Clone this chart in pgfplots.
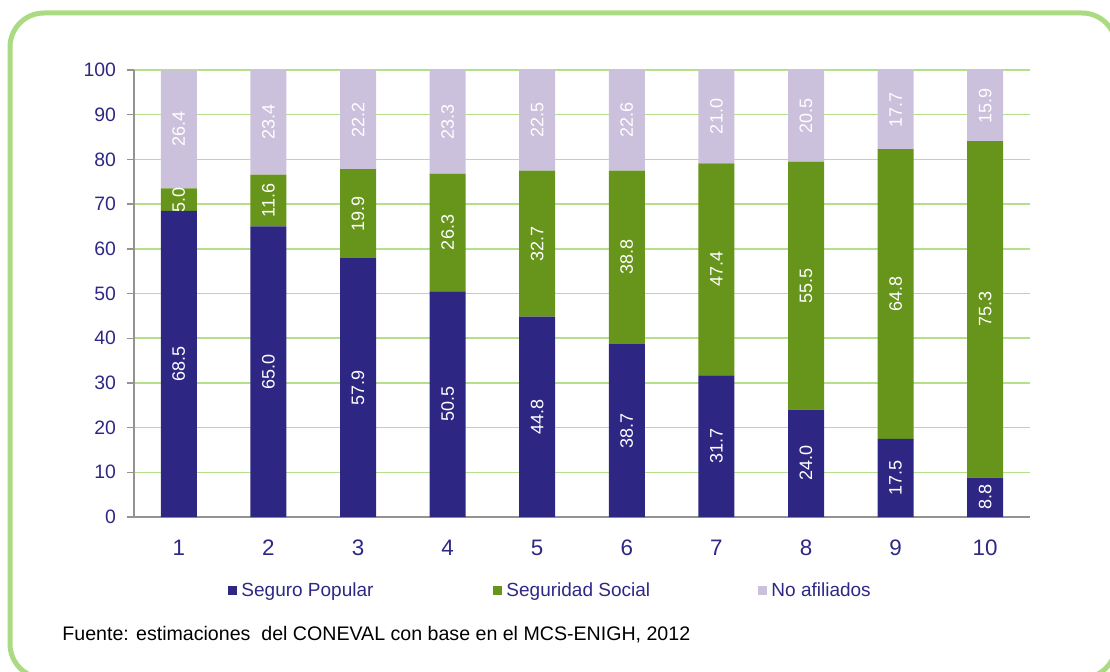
\documentclass[border=0pt]{standalone}
\usepackage{fontspec}
\setmainfont{Liberation Sans}
\usepackage{pgfplots}
\usepackage{pgfplotstable}
\pgfplotsset{compat=1.18}

\definecolor{spblue}{RGB}{46,38,131}
\definecolor{ssgreen}{RGB}{103,148,26}
\definecolor{nalav}{RGB}{203,193,220}
\definecolor{gridgreen}{RGB}{181,224,138}
\definecolor{framegreen}{RGB}{170,219,130}
\definecolor{tickblue}{RGB}{46,40,133}

\pgfplotsset{
  sqleg/.style={legend image code/.code={\fill[##1] (0pt,-2.2pt) rectangle (4.5pt,2.3pt);}},
  samebox/.style={at={(67pt,77pt)}, anchor=south west,
    scale only axis, width=448pt, height=223.5pt,
    xmin=0.5, xmax=10.5, ymin=0, ymax=100},
}

% deciles: Seguro Popular, Seguridad Social, No afiliados
\pgfplotstableread{
dec sp ss na
1 68.5 5.0 26.4
2 65.0 11.6 23.4
3 57.9 19.9 22.2
4 50.5 26.3 23.3
5 44.8 32.7 22.5
6 38.7 38.8 22.6
7 31.7 47.4 21.0
8 24.0 55.5 20.5
9 17.5 64.8 17.7
10 8.8 75.3 15.9
}\datos

\begin{document}
\begin{tikzpicture}
\useasboundingbox (0,0) rectangle (555pt,335.5pt);
\clip (0,0) rectangle (555pt,335.5pt);
\draw[framegreen, line width=2.5pt, rounded corners=17pt] (5pt,-3.5pt) rectangle (558pt,329pt);
\begin{axis}[
  samebox,
  ybar stacked, bar width=18pt,
  xtick={1,...,10}, ytick={0,10,...,100},
  axis x line*=bottom, axis y line*=left,
  axis line style={draw=gray!85, line width=0.7pt},
  tick align=outside, major tick length=3.5pt,
  ytick style={draw=gray!85, line width=0.7pt},
  xtick style={draw=none},
  ymajorgrids, grid style={gridgreen, line width=0.8pt},
  /pgf/number format/assume math mode=true,
  yticklabel style={font=\fontsize{9.7}{12}\selectfont, text=tickblue, xshift=-2pt},
  xticklabel style={font=\fontsize{11.2}{13}\selectfont, text=tickblue, yshift=-4.5pt},
  legend columns=3,
  legend style={at={(0.105,0)}, anchor=west, yshift=-37pt, draw=none, fill=none, inner sep=0pt,
    font=\fontsize{9.5}{11}\selectfont, text=tickblue,
    /tikz/every even column/.append style={column sep=0pt}},
]
\addplot[fill=spblue, draw=none, sqleg] table[x=dec, y=sp] {\datos};
\addplot[fill=ssgreen, draw=none, sqleg] table[x=dec, y=ss] {\datos};
\addplot[fill=nalav, draw=none, sqleg] table[x=dec, y=na] {\datos};
\legend{\makebox[124pt][l]{Seguro Popular}, \makebox[124pt][l]{Seguridad Social}, \makebox[124pt][l]{No afiliados}}
\end{axis}
% value labels, centred in each segment
\begin{axis}[
  samebox, hide axis,
  /pgf/number format/.cd, assume math mode=true, fixed, fixed zerofill, precision=1, /pgfplots/.cd,
  point meta=explicit,
  nodes near coords,
  every node near coord/.append style={rotate=90, anchor=center,
    font=\fontsize{9}{10}\selectfont, text=white},
]
\addplot[draw=none, mark=none] table[x=dec, y expr=\thisrow{sp}/2, meta=sp] {\datos};
\addplot[draw=none, mark=none] table[x=dec, y expr=\thisrow{sp}+\thisrow{ss}/2, meta=ss] {\datos};
\addplot[draw=none, mark=none] table[x=dec, y expr=\thisrow{sp}+\thisrow{ss}+\thisrow{na}/2, meta=na] {\datos};
\end{axis}
\node[anchor=base west, font=\fontsize{9.8}{11}\selectfont, inner sep=0pt] at (31pt,15.5pt)
  {Fuente: estimaciones~ del CONEVAL con base en el MCS-ENIGH, 2012};
\end{tikzpicture}
\end{document}
